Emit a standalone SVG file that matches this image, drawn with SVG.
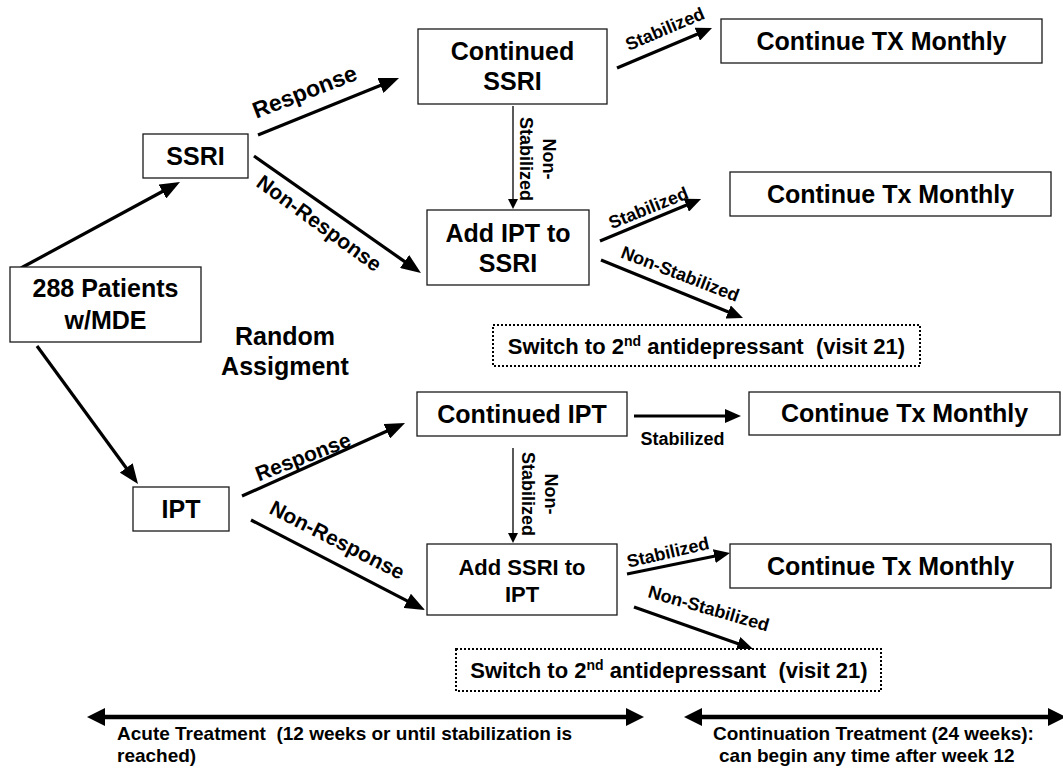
<svg xmlns="http://www.w3.org/2000/svg" width="1063" height="770" viewBox="0 0 1063 770">
<style>
.box{fill:#fff;stroke:#1a1a1a;stroke-width:1.3}
.dot{fill:#fff;stroke:#000;stroke-width:2;stroke-dasharray:2 2}
.t{font-family:"Liberation Sans",Arial,sans-serif;font-weight:bold;fill:#000}
.big{font-size:25px;text-anchor:middle}
.mid{text-anchor:middle}
.lbl{font-size:18px}
.c{stroke:#000;fill:none}
.thick{stroke-width:3.2}
.thin{stroke-width:1.3}
.bot{stroke-width:4.5}
</style>
<defs>
<marker id="ah" markerUnits="userSpaceOnUse" markerWidth="20" markerHeight="16" refX="1" refY="8" orient="auto"><path d="M0,0 L20,8 L0,16 Z" fill="#000"/></marker>
<marker id="as" markerUnits="userSpaceOnUse" markerWidth="16" markerHeight="14" refX="1" refY="7" orient="auto"><path d="M0,0 L16,7 L0,14 Z" fill="#000"/></marker>
<marker id="at" markerUnits="userSpaceOnUse" markerWidth="10" markerHeight="10" refX="1" refY="5" orient="auto"><path d="M0,0 L10,5 L0,10 Z" fill="#000"/></marker>
<marker id="ab" markerUnits="userSpaceOnUse" markerWidth="18" markerHeight="18" refX="1" refY="9" orient="auto-start-reverse"><path d="M0,0 L18,9 L0,18 Z" fill="#000"/></marker>
</defs>

<g id="connectors">
<path class="c thick" d="M21,268 L163.3,191" marker-end="url(#ah)"/>
<path class="c thick" d="M37,346 L126.8,468.7" marker-end="url(#ah)"/>
<path class="c thick" d="M258,135 L381.4,85.1" marker-end="url(#ah)"/>
<path class="c thick" d="M254,156 L405.4,262.1" marker-end="url(#ah)"/>
<path class="c thin" d="M513,106 L513,200" marker-end="url(#at)"/>
<path class="c thick" d="M617,68 L698.2,33.8" marker-end="url(#as)"/>
<path class="c thick" d="M600,241 L687.2,204.8" marker-end="url(#as)"/>
<path class="c thick" d="M601,260 L729.1,312.3" marker-end="url(#as)"/>
<path class="c thick" d="M242,496 L387.7,430.8" marker-end="url(#ah)"/>
<path class="c thick" d="M251,520 L408.1,601.3" marker-end="url(#ah)"/>
<path class="c thin" d="M513,448 L513,534" marker-end="url(#at)"/>
<path class="c thick" d="M634,416 L726,416" marker-end="url(#as)"/>
<path class="c thick" d="M627,574 L715.3,556" marker-end="url(#as)"/>
<path class="c thick" d="M634,607 L738.9,644" marker-end="url(#as)"/>
<path class="c bot" d="M104,717 L627,717" marker-start="url(#ab)" marker-end="url(#ab)"/>
<path class="c bot" d="M701,717 L1049,717" marker-start="url(#ab)" marker-end="url(#ab)"/>

<text class="t" font-size="23" transform="translate(307.5,99) rotate(-21)" text-anchor="middle">Response</text>
<text class="t" font-size="21" transform="translate(315,229) rotate(36)" text-anchor="middle">Non-Response</text>
<text class="t" font-size="21" transform="translate(305.5,463.5) rotate(-21)" text-anchor="middle">Response</text>
<text class="t" font-size="21" transform="translate(334,546.5) rotate(27)" text-anchor="middle">Non-Response</text>
<text class="t lbl" transform="translate(667.3,34.5) rotate(-23)" text-anchor="middle">Stabilized</text>
<text class="t lbl" transform="translate(650.7,213.6) rotate(-22)" text-anchor="middle">Stabilized</text>
<text class="t lbl" transform="translate(678,279.6) rotate(21)" text-anchor="middle">Non-Stabilized</text>
<text class="t lbl mid" x="682.5" y="445">Stabilized</text>
<text class="t lbl" transform="translate(669.4,558.3) rotate(-13)" text-anchor="middle">Stabilized</text>
<text class="t lbl" transform="translate(707,614.3) rotate(16)" text-anchor="middle">Non-Stabilized</text>
<text class="t lbl" transform="translate(543,159) rotate(90)" text-anchor="middle"><tspan x="0" y="0">Non-</tspan><tspan x="0" y="23">Stabilized</tspan></text>
<text class="t lbl" transform="translate(545,494) rotate(90)" text-anchor="middle"><tspan x="0" y="0">Non-</tspan><tspan x="0" y="23">Stabilized</tspan></text>
</g>

<g id="patients">
<rect class="box" x="10" y="267" width="191" height="75"/>
<text class="t big" x="105.5" y="297">288 Patients</text>
<text class="t big" x="105.5" y="329">w/MDE</text>
</g>
<g id="random">
<text class="t big" x="285" y="345">Random</text>
<text class="t big" x="285" y="375">Assigment</text>
</g>
<g id="ssri">
<rect class="box" x="143" y="134" width="105" height="44"/>
<text class="t big" x="195.5" y="165">SSRI</text>
</g>
<g id="ipt">
<rect class="box" x="133" y="487" width="96" height="44"/>
<text class="t big" x="181" y="518">IPT</text>
</g>
<g id="continued-ssri">
<rect class="box" x="418" y="29" width="189" height="75"/>
<text class="t big" x="512.5" y="60">Continued</text>
<text class="t big" x="512.5" y="90">SSRI</text>
</g>
<g id="add-ipt">
<rect class="box" x="427" y="210" width="162" height="75"/>
<text class="t big" x="508" y="242">Add IPT to</text>
<text class="t big" x="508" y="272">SSRI</text>
</g>
<g id="continue-1">
<rect class="box" x="721" y="19" width="321" height="44"/>
<text class="t big" x="881.5" y="50">Continue TX Monthly</text>
</g>
<g id="continue-2">
<rect class="box" x="730" y="172" width="321" height="44"/>
<text class="t big" x="890.5" y="203">Continue Tx Monthly</text>
</g>
<g id="switch-1">
<rect class="dot" x="493" y="325" width="427" height="41"/>
<text class="t mid" font-size="22" x="706.5" y="354" xml:space="preserve">Switch to 2<tspan font-size="14" dy="-8">nd</tspan><tspan dy="8"> antidepressant  (visit 21)</tspan></text>
</g>
<g id="continued-ipt">
<rect class="box" x="417" y="392" width="210" height="44"/>
<text class="t big" x="522" y="423">Continued IPT</text>
</g>
<g id="continue-3">
<rect class="box" x="749" y="392" width="311" height="43"/>
<text class="t big" x="904.5" y="422">Continue Tx Monthly</text>
</g>
<g id="add-ssri">
<rect class="box" x="427" y="544" width="190" height="71"/>
<text class="t mid" font-size="22" x="522" y="575">Add SSRI to</text>
<text class="t mid" font-size="22" x="522" y="602">IPT</text>
</g>
<g id="continue-4">
<rect class="box" x="730" y="544" width="321" height="44"/>
<text class="t big" x="890.5" y="575">Continue Tx Monthly</text>
</g>
<g id="switch-2">
<rect class="dot" x="456" y="649" width="425" height="42"/>
<text class="t mid" font-size="22" x="669" y="678" xml:space="preserve">Switch to 2<tspan font-size="14" dy="-8">nd</tspan><tspan dy="8"> antidepressant  (visit 21)</tspan></text>
</g>
<g id="phase-labels">
<text class="t" font-size="19" x="117" y="740" xml:space="preserve">Acute Treatment  (12 weeks or until stabilization is</text>
<text class="t" font-size="19" x="117" y="762">reached)</text>
<text class="t" font-size="19" x="713" y="740">Continuation Treatment (24 weeks):</text>
<text class="t" font-size="19" x="719" y="762">can begin any time after week 12</text>
</g>
</svg>
